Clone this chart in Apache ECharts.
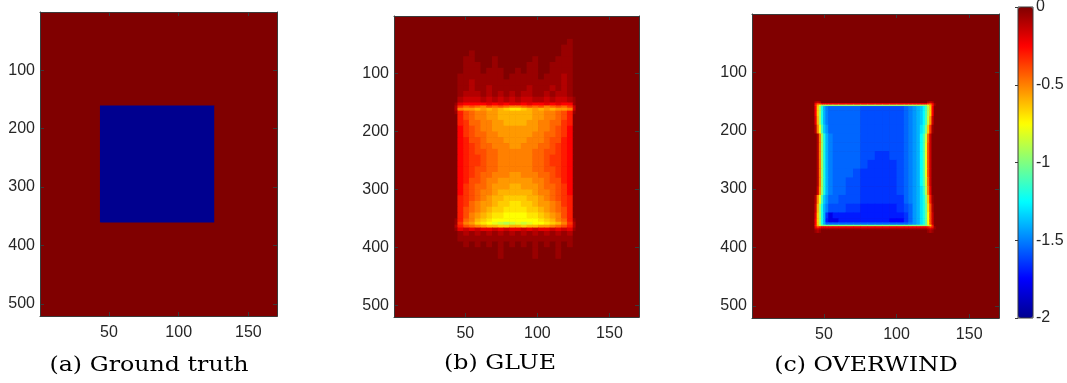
<!DOCTYPE html>
<html><head><meta charset="utf-8">
<script src="https://cdn.jsdelivr.net/npm/echarts@6/dist/echarts.min.js"></script>
<style>html,body{margin:0;padding:0;background:#fff}#c{width:1067px;height:383px}</style>
</head><body><div id="c"></div>
<script>
// ---------- data ----------
const xRange = [0.5, 170.5];
const yRange = [0.5, 520.5];
const xTicks = [50, 100, 150];
const yTicks = [100, 200, 300, 400, 500];
const colorbarRange = [-2, 0];
const colorbarStep = 0.5;
const titles = ['(a) Ground truth', '(b) GLUE', '(c) OVERWIND'];
const backgroundValue = 0;
// one character per cell: code index i  ->  value -0.05 * i  ('0' = 0 ... 'E' = -2)
const valueCodes = '0123456789abcdefghijklmnopqrstuvwxyzABCDE';

// (a) ground truth
const truthX = [0.5, 43.5, 125.5, 170.5];
const truthY = [0.5, 160.5, 360.5, 520.5];
const truthRows = ['000', '0E0', '000'];

// (b) GLUE
const glueX = [42.5, 44.5, 48.5, 52.5, 56.5, 60.5, 64.5, 68.5, 72.5, 76.5, 80.5, 84.5, 88.5, 92.5, 96.5, 100.5, 104.5, 108.5, 112.5, 116.5, 120.5, 124.5, 126.5, 130.5];
const glueY = [30, 40, 50, 60, 70, 80, 90, 100, 110, 120, 130, 140, 150, 155, 159, 164, 170, 180, 190, 200, 210, 220, 230, 240, 250, 260, 270, 280, 290, 300, 310, 320, 330, 340, 350, 356, 361, 366, 372, 380, 390, 400, 420, 440, 460];
const glueRows = [
  '0|00000|00000|00000|00000|00',
  '0|00000|00000|00000|00001|00',
  '0|00000|00000|00000|00011|00',
  '0|00100|00000|00000|00011|00',
  '0|01100|01000|00010|00111|00',
  '0|01110|01000|00110|01111|00',
  '0|01110|11100|10110|01111|00',
  '0|11111|11101|11110|11121|00',
  '0|11211|11111|11111|11121|00',
  '0|11211|21111|11211|12121|00',
  '0|12221|21212|12211|21221|00',
  '0|23332|32323|23322|32332|10',
  '1|45555|45454|45455|45455|10',
  '2|7989a|8989a|a9898|a9897|30',
  '2|abbcb|cbcde|edcbc|bcbba|30',
  '1|689aa|bbccc|cccbb|aa986|10',
  '0|689aa|bbccc|cccbb|aa986|00',
  '0|6799a|abbcc|ccbba|a9976|00',
  '0|5789a|abbbb|bbbba|a9875|00',
  '0|57899|aabbb|bbbaa|99875|00',
  '0|56889|aaabb|bbaaa|98865|00',
  '0|56789|9aaab|baaa9|98765|00',
  '0|56788|99aaa|aaa99|88765|00',
  '0|56778|99aaa|aaa99|87765|00',
  '0|56778|99aaa|aaa99|87765|00',
  '0|56788|99aaa|aaa99|88765|00',
  '0|56789|9aaab|baaa9|98765|00',
  '0|56889|aabbb|bbbaa|98865|00',
  '0|57899|abbbc|cbbba|99875|00',
  '0|5789a|abccc|cccba|a9875|00',
  '0|6789a|bccdd|ddccb|a9876|00',
  '0|679ab|bcdde|eddcb|ba976|00',
  '0|689ab|cddee|eeddc|ba986|00',
  '0|68abc|deeff|ffeed|cba86|00',
  '1|69acd|effff|ffffe|dca96|10',
  '1|7abde|fghih|ghgff|edca7|20',
  '2|689ab|ccddc|cdccb|ba986|20',
  '1|43434|43434|43434|43434|10',
  '0|12121|21212|12121|21212|00',
  '0|11111|11111|11111|11111|00',
  '0|01010|10101|01010|10101|00',
  '0|00000|00100|00010|00100|00',
  '0|00000|00000|00000|00000|00',
  '0|00000|00000|00000|00000|00'
];

// (c) OVERWIND
const overX = [40.5, 43.5, 45, 46.5, 48, 49.5, 51, 53, 56, 60, 65, 70, 75, 80, 85, 90, 95, 100, 105, 108, 111, 113.5, 116, 118, 119.5, 121, 122.5, 124, 125.5, 127, 130];
const overY = [145, 150, 153, 155.5, 158, 165, 175, 190, 205, 220, 235, 250, 265, 280, 295, 310, 325, 340, 350, 357, 361, 363.5, 366, 369, 374];
const overRows = [
  '00000000|0000|000000|000000000000',
  '02320000|0000|000000|000000023200',
  '05875555|5555|555555|555555578510',
  '06cgjjjj|jjjj|jjjjjj|jjjjjjjgc610',
  '05djosuv|vvvv|wwwwww|vutsrpmid500',
  '05djosuv|vvvv|wwwwww|vutsrpmid500',
  '04cjosuv|vvvv|wwwwww|vutsrpmhb300',
  '02agmrtv|vvvv|wwwwww|vutsqokd7100',
  '002ajosu|vvvv|wwwwww|vutspmh93000',
  '002ajosu|vvvv|wwwwww|vutspmg83000',
  '002ajosu|vvvv|wwxxww|vutspmg83000',
  '002ajosu|vvvv|wxxxxw|vutspmg83000',
  '002ajosu|vvvw|xxxxxw|vutspmg83000',
  '002ajosu|vvww|xxxxxw|vutspmh93000',
  '003bjosu|vvww|xxxxxw|vutsqnia4000',
  '02agmrtv|vwww|xxxxxx|vutsqokd6100',
  '03cjosuw|wwxx|yyyyyx|wvtsqole8200',
  '04djosxA|yyyy|yyyyyy|xvtsqolf8300',
  '05djosyA|Ayyy|yyyyzz|xvtsqolf8300',
  '05djosvv|vvvv|vvvvvv|vutsqolf8300',
  '06chkkkk|kkkk|kkkkkk|kkkkkkkhd600',
  '05865555|5555|555555|555555568610',
  '03432222|2222|222222|222222234310',
  '01210000|0000|000000|000000012100'
];

// ---------- build ----------
function buildCells(xe, ye, rows) {
  const out = [[xRange[0], xRange[1], yRange[0], yRange[1], backgroundValue]];
  rows.forEach(function (r, j) {
    const s = r.replace(/\|/g, '');
    if (s.length !== xe.length - 1) console.error('row length mismatch', j, s.length);
    for (let i = 0; i < s.length; i++) {
      const idx = valueCodes.indexOf(s[i]);
      out.push([xe[i], xe[i + 1], ye[j], ye[j + 1], -0.05 * idx]);
    }
  });
  if (rows.length !== ye.length - 1) console.error('row count mismatch');
  return out;
}
const panels = [
  buildCells(truthX, truthY, truthRows),
  buildCells(glueX, glueY, glueRows),
  buildCells(overX, overY, overRows)
];

const grids = [
  {left: 40, top: 12, width: 237, height: 304},
  {left: 394, top: 16, width: 245, height: 301},
  {left: 752, top: 14, width: 247, height: 304}
];
const titlePos = [[149, 366], [500, 364], [866, 366]];

const axisColor = '#3a3a3a';
const labelColor = '#262626';
const labelFont = {fontSize: 16, fontFamily: 'Liberation Sans', color: labelColor};

function renderCell(params, api) {
  const p0 = api.coord([api.value(0), api.value(2)]);
  const p1 = api.coord([api.value(1), api.value(3)]);
  const x = Math.min(p0[0], p1[0]), y = Math.min(p0[1], p1[1]);
  const w = Math.abs(p1[0] - p0[0]), h = Math.abs(p1[1] - p0[1]);
  return {type: 'rect', shape: {x: x, y: y, width: w + 0.6, height: h + 0.6},
          style: {fill: api.visual('color')}};
}

const xAxis = [], yAxis = [], series = [], gridOpt = [];
grids.forEach(function (g, gi) {
  gridOpt.push(Object.assign({containLabel: false, outerBoundsMode: 'none'}, g));
  ['bottom', 'top'].forEach(function (pos) {
    xAxis.push({
      gridIndex: gi, type: 'value', position: pos, min: xRange[0], max: xRange[1],
      axisLine: {show: true, onZero: false, lineStyle: {color: axisColor, width: 1}},
      axisTick: {show: true, inside: true, length: 4, customValues: xTicks, lineStyle: {color: axisColor}},
      axisLabel: Object.assign({show: pos === 'bottom', customValues: xTicks, margin: 9}, labelFont),
      splitLine: {show: false}, z: 5
    });
  });
  ['left', 'right'].forEach(function (pos) {
    yAxis.push({
      gridIndex: gi, type: 'value', position: pos, inverse: true, min: yRange[0], max: yRange[1],
      axisLine: {show: true, onZero: false, lineStyle: {color: axisColor, width: 1}},
      axisTick: {show: true, inside: true, length: 4, customValues: yTicks, lineStyle: {color: axisColor}},
      axisLabel: Object.assign({show: pos === 'left', customValues: yTicks, margin: 5}, labelFont),
      splitLine: {show: false}, z: 5
    });
  });
  series.push({
    type: 'custom', xAxisIndex: gi * 2, yAxisIndex: gi * 2, data: panels[gi],
    encode: {x: [0, 1], y: [2, 3]}, renderItem: renderCell, animation: false, silent: true
  });
});

// colorbar axis
gridOpt.push({left: 1018, top: 7, width: 15, height: 311, show: true, borderColor: axisColor,
  borderWidth: 1, backgroundColor: 'transparent', z: 10, containLabel: false, outerBoundsMode: 'none'});
xAxis.push({gridIndex: 3, type: 'value', show: false, min: 0, max: 1});
yAxis.push({
  gridIndex: 3, type: 'value', position: 'right', min: colorbarRange[0], max: colorbarRange[1],
  interval: colorbarStep, z: 11,
  axisLine: {show: false},
  axisTick: {show: true, inside: true, length: 3, lineStyle: {color: axisColor}},
  axisLabel: Object.assign({show: true, margin: 3}, labelFont),
  splitLine: {show: false}
});

const jet = ['#00008f', '#0000ff', '#0080ff', '#00ffff', '#80ff80', '#ffff00', '#ff8000', '#ff0000', '#800000'];

const option = {
  animation: false,
  backgroundColor: '#ffffff',
  grid: gridOpt,
  xAxis: xAxis,
  yAxis: yAxis,
  visualMap: {
    type: 'continuous', min: colorbarRange[0], max: colorbarRange[1], seriesIndex: [0, 1, 2], dimension: 4,
    inRange: {color: jet}, left: 1018, top: 7, itemWidth: 15, itemHeight: 311, padding: 0,
    calculable: false, hoverLink: false, orient: 'vertical', z: 9
  },
  graphic: titles.map(function (t, i) {
    return {type: 'text', x: titlePos[i][0], y: titlePos[i][1], scaleX: 1.13,
      style: {text: t, fontSize: 21, fontFamily: 'DejaVu Serif', fill: '#000',
              align: 'center', verticalAlign: 'middle'}};
  }),
  series: series
};
const chart = echarts.init(document.getElementById('c'), null, {renderer: 'canvas'});
chart.setOption(option);
</script>
</body></html>
